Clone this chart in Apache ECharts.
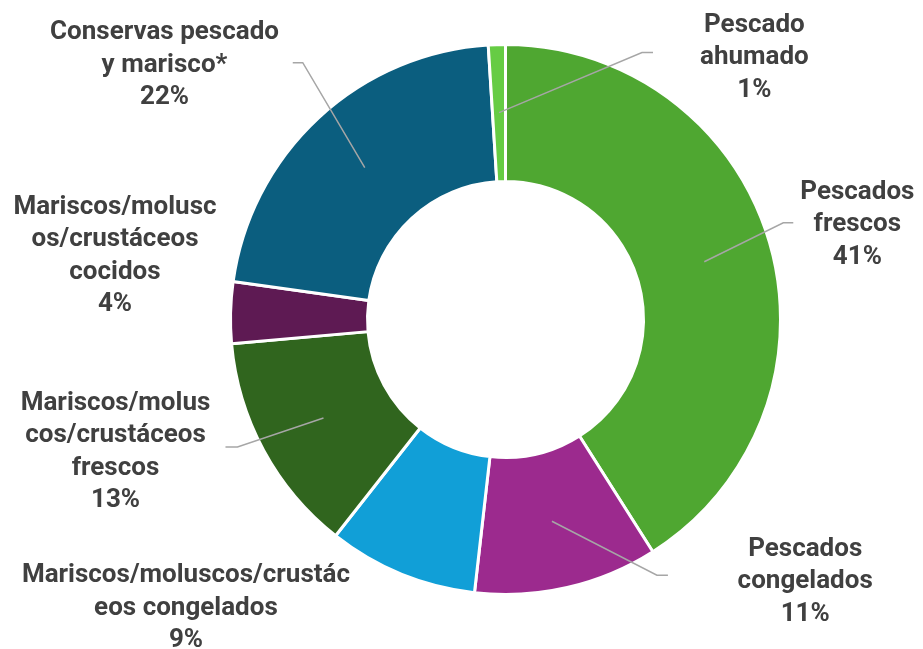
<!DOCTYPE html>
<html lang="es">
<head>
  <meta charset="UTF-8">
  <script src="https://cdn.jsdelivr.net/npm/echarts@6/dist/echarts.min.js"></script>
  <title>Consumo pescado</title>
  <style>
    html, body, #main { width: 100%; height: 100%; margin: 0; padding: 0; background: #fff; }
  </style>
</head>
<body>
  <div id="main"></div>
<script>
  // categories, clockwise from the top
  const names = [
    'Pescados frescos',
    'Pescados congelados',
    'Mariscos/moluscos/crustáceos congelados',
    'Mariscos/moluscos/crustáceos frescos',
    'Mariscos/moluscos/crustáceos cocidos',
    'Conservas pescado y marisco*',
    'Pescado ahumado'
  ]
  // share (%)
  const shares = [41.0, 10.8, 8.8, 13.0, 3.6, 21.8, 1.0]
  // label text as wrapped in the picture
  const labelLines = [
    ['Pescados', 'frescos'],
    ['Pescados', 'congelados'],
    ['Mariscos/moluscos/crustác', 'eos congelados'],
    ['Mariscos/molus', 'cos/crustáceos', 'frescos'],
    ['Mariscos/molusc', 'os/crustáceos', 'cocidos'],
    ['Conservas pescado', 'y marisco*'],
    ['Pescado', 'ahumado']
  ]
  const colors = ['#4fa731', '#9c2a8e', '#119fd7', '#30651e', '#5e1a53', '#0b5e7f', '#66cc44']

  // label tuning per slice: [line length, length2, padding, show line]
  const labelTune = [
    [75, 10, [0, 0, 32, 9], true],
    [70, 100, [0, 0, 15, 65], true],
    [105, 0, [0, 32, 0, 0], false],
    [90, 12, [0, 17, 18, 0], true],
    [70, 0, [0, 7, 113, 0], false],
    [110, 6, [0, 0, 44, 0], true],
    [40, 10, [0, 0, 0, 0], true]
  ]
  // leader bend relative to its start inside the ring: [dx, dy, tail]
  const leaders = [
    [79, -39, 10],
    [105, 54, 11],
    null,
    [-86, 29, -12],
    null,
    [-62, -105, -10],
    [143, -60, 11]
  ]

  const center = [505.5, 319.5]

  const ringData = names.map((n, i) => ({
    name: n,
    value: shares[i],
    itemStyle: { color: colors[i] }
  }))

  const labelData = names.map((n, i) => ({
    name: n,
    value: shares[i],
    label: { padding: labelTune[i][2] },
    labelLine: { show: labelTune[i][3], length: labelTune[i][0], length2: labelTune[i][1] }
  }))

  const option = {
    animation: false,
    series: [
      {
        type: 'pie',
        silent: true,
        z: 1,
        center: center,
        radius: [138, 275],
        startAngle: 90,
        clockwise: true,
        label: { show: false },
        labelLine: { show: false },
        itemStyle: { borderColor: '#fff', borderWidth: 3 },
        data: ringData
      },
      {
        type: 'pie',
        silent: true,
        z: 5,
        center: center,
        radius: [0, 207],
        startAngle: 90,
        clockwise: true,
        avoidLabelOverlap: false,
        itemStyle: { color: 'rgba(0,0,0,0)', borderWidth: 0 },
        label: {
          show: true,
          position: 'outside',
          distanceToLabelLine: 5,
          formatter: (p) => {
            const lines = labelLines[p.dataIndex].concat([Math.round(p.value) + '%'])
            return lines.map((l) => '{c|' + l + '}').join('\n')
          },
          rich: {
            c: {
              align: 'center',
              fontFamily: 'Roboto',
              fontWeight: 'bold',
              fontSize: 26,
              lineHeight: 32.5,
              color: '#404040'
            }
          }
        },
        labelLine: {
          lineStyle: { color: '#a6a6a6', width: 1.5 }
        },
        labelLayout: (params) => {
          const ld = leaders[params.dataIndex]
          if (!ld || !params.labelLinePoints) return {}
          const p0 = params.labelLinePoints[0]
          const p1 = [p0[0] + ld[0], p0[1] + ld[1]]
          const p2 = [p1[0] + ld[2], p1[1]]
          if (params.dataIndex !== 6) return { labelLinePoints: [p0, p1, p2] }
          // the tiny top slice keeps its label on the right side
          return {
            labelLinePoints: [p0, p1, p2],
            x: p2[0] + 47,
            y: p2[1] + 5,
            align: 'left',
            verticalAlign: 'middle'
          }
        },
        data: labelData
      }
    ]
  }

  const chart = echarts.init(document.getElementById('main'))
  chart.setOption(option)
</script>
</body>
</html>
